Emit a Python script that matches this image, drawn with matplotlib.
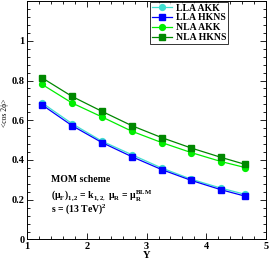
import matplotlib
matplotlib.use("Agg")
import matplotlib.pyplot as plt
from matplotlib.ticker import MultipleLocator

Y = [1.25, 1.75, 2.25, 2.75, 3.25, 3.75, 4.25, 4.65]
lla_akk = [0.687, 0.583, 0.495, 0.427, 0.360, 0.303, 0.258, 0.227]
lla_hkns = [0.677, 0.573, 0.488, 0.417, 0.352, 0.297, 0.250, 0.218]
nla_akk = [0.780, 0.687, 0.617, 0.545, 0.488, 0.437, 0.392, 0.362]
nla_hkns = [0.813, 0.720, 0.645, 0.573, 0.513, 0.460, 0.413, 0.378]
labels = ["LLA AKK", "LLA HKNS", "NLA AKK", "NLA HKNS"]

plt.rcParams['font.family'] = ['Liberation Serif', 'DejaVu Serif']
plt.rcParams['mathtext.fontset'] = 'custom'
plt.rcParams['mathtext.rm'] = 'Liberation Serif'
plt.rcParams['mathtext.it'] = 'Liberation Serif:italic'
plt.rcParams['mathtext.bf'] = 'Liberation Serif:bold'

fig = plt.figure(figsize=(2.7, 2.6), dpi=100)
ax = fig.add_axes([0.101, 0.079, 0.884, 0.917])

series = [
    (lla_akk, '#40E0D0', 'o'),
    (lla_hkns, '#0000FF', 's'),
    (nla_akk, '#00EE00', 'o'),
    (nla_hkns, '#008800', 's'),
]
for (vals, col, mk), lab in zip(series, labels):
    ax.plot(Y, vals, color=col, marker=mk, markersize=4.2, lw=0.9, label=lab)

ax.set_xlim(1, 5)
ax.set_ylim(0, 1.2)
ax.xaxis.set_major_locator(MultipleLocator(1))
ax.xaxis.set_minor_locator(MultipleLocator(0.2))
ax.yaxis.set_minor_locator(MultipleLocator(0.04))
ax.set_yticks([0, 0.2, 0.4, 0.6, 0.8, 1.0])
ax.set_yticklabels(["0", "0.2", "0.4", "0.6", "0.8", "1"])
ax.tick_params(which='both', direction='in', top=True, right=True, labelsize=7.5, pad=2)
ax.tick_params(which='major', length=4, width=0.6)
ax.tick_params(which='minor', length=2.2, width=0.6)
for lbl in ax.get_xticklabels() + ax.get_yticklabels():
    lbl.set_fontweight('bold')
for s in ax.spines.values():
    s.set_linewidth(0.7)

ax.set_xlabel("Y", fontsize=7.5, fontweight='bold', labelpad=0)
fig.text(0.018, 0.565, "<cos 2ϕ>", rotation=90, fontsize=5.5, ha='center', va='center')

leg = ax.legend(loc='upper right', bbox_to_anchor=(0.841, 0.997), frameon=True, fancybox=False,
                edgecolor='black', prop={'weight': 'bold', 'size': 7},
                handlelength=2.1, handletextpad=0.35, borderpad=0.2, labelspacing=0.08,
                borderaxespad=0.0)
leg.get_frame().set_linewidth(0.7)

tx = 0.098
ax.text(tx, 0.25, "MOM scheme", transform=ax.transAxes, fontsize=7, fontweight='bold', va='center')
ax.text(tx, 0.185,
        r"(μ$_{\mathbf{F}}$)$_{\mathbf{1,2}}$ = k$_{\mathbf{1,2},}$ μ$_{\mathbf{R}}$ = μ$_{\mathbf{R}}^{\mathbf{BLM}}$",
        transform=ax.transAxes, fontsize=7, fontweight='bold', va='center')
ax.text(tx, 0.126, r"s = (13 TeV)$^{\mathbf{2}}$", transform=ax.transAxes, fontsize=7,
        fontweight='bold', va='center')

fig.savefig("out.png", dpi=100)
